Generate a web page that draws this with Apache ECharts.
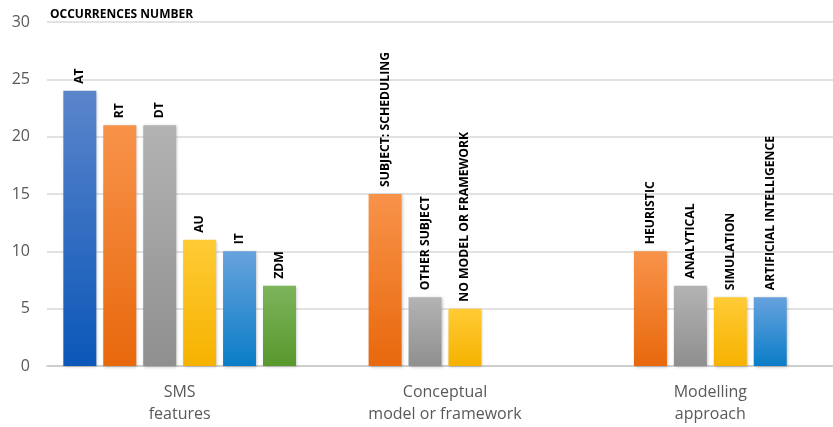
<!DOCTYPE html>
<html>
<head>
<meta charset="utf-8">
<script src="https://cdn.jsdelivr.net/npm/echarts@6/dist/echarts.min.js"></script>
<style>html,body{margin:0;padding:0;background:#fff;}#c{width:833px;height:427px;}</style>
</head>
<body>
<div id="c"></div>
<script>
const categories = ['SMS\nfeatures', 'Conceptual\nmodel or framework', 'Modelling\napproach'];
const yTicks = [0, 5, 10, 15, 20, 25, 30];
const slot0Names = ['AT', null, null];
const slot0Values = [24, null, null];
const slot1Names = ['RT', 'SUBJECT: SCHEDULING', 'HEURISTIC'];
const slot1Values = [21, 15, 10];
const slot2Names = ['DT', 'OTHER SUBJECT', 'ANALYTICAL'];
const slot2Values = [21, 6, 7];
const slot3Names = ['AU', 'NO MODEL OR FRAMEWORK', 'SIMULATION'];
const slot3Values = [11, 5, 6];
const slot4Names = ['IT', null, 'ARTIFICIAL INTELLIGENCE'];
const slot4Values = [10, null, 6];
const slot5Names = ['ZDM', null, null];
const slot5Values = [7, null, null];

const slots = [
  [slot0Names, slot0Values, ['#5b85cb', '#0b57b8']],
  [slot1Names, slot1Values, ['#f8934a', '#e8680c']],
  [slot2Names, slot2Values, ['#b3b3b3', '#8f8f8f']],
  [slot3Names, slot3Values, ['#ffcb35', '#f6b200']],
  [slot4Names, slot4Values, ['#67a2dd', '#0a7dc7']],
  [slot5Names, slot5Values, ['#7db45c', '#58982c']]
];

const series = slots.map(([names, values, cols]) => ({
  type: 'bar',
  barWidth: 33,
  barGap: '21%',
  barCategoryGap: '12.2%',
  data: values.map((v, i) => ({ value: v, name: names[i] })),
  itemStyle: {
    color: new echarts.graphic.LinearGradient(0, 0, 0, 1, [
      { offset: 0, color: cols[0] }, { offset: 1, color: cols[1] }
    ]),
    shadowColor: 'rgba(0,0,0,0.25)',
    shadowBlur: 3,
    shadowOffsetX: 1,
    shadowOffsetY: 1
  },
  label: {
    show: true,
    position: 'top',
    rotate: 90,
    align: 'left',
    verticalAlign: 'middle',
    distance: 7,
    formatter: p => p.data.name || '',
    fontFamily: 'Open Sans',
    fontWeight: 'bold',
    fontSize: 12.2,
    color: '#000'
  }
}));

const chart = echarts.init(document.getElementById('c'));
chart.setOption({
  animation: false,
  title: {
    text: 'OCCURRENCES NUMBER',
    left: 45, top: 4,
    textStyle: { fontFamily: 'Open Sans', fontWeight: 'bold', fontSize: 12, color: '#000' }
  },
  grid: { left: 47, width: 796, top: 22, height: 344, outerBoundsMode: 'none', containLabel: false },
  xAxis: {
    type: 'category',
    data: categories,
    axisTick: { show: false },
    axisLine: { lineStyle: { color: '#c8c8c8', width: 1.5 } },
    axisLabel: { fontFamily: 'Open Sans', fontSize: 16, color: '#595959', lineHeight: 22, margin: 15 }
  },
  yAxis: {
    type: 'value',
    min: yTicks[0], max: yTicks[yTicks.length - 1], interval: 5,
    axisLine: { show: false },
    axisTick: { show: false },
    splitLine: { lineStyle: { color: '#d9d9d9', width: 1.5 } },
    axisLabel: { fontFamily: 'Open Sans', fontSize: 16, color: '#595959', margin: 17 }
  },
  series: series
});
</script>
</body>
</html>
